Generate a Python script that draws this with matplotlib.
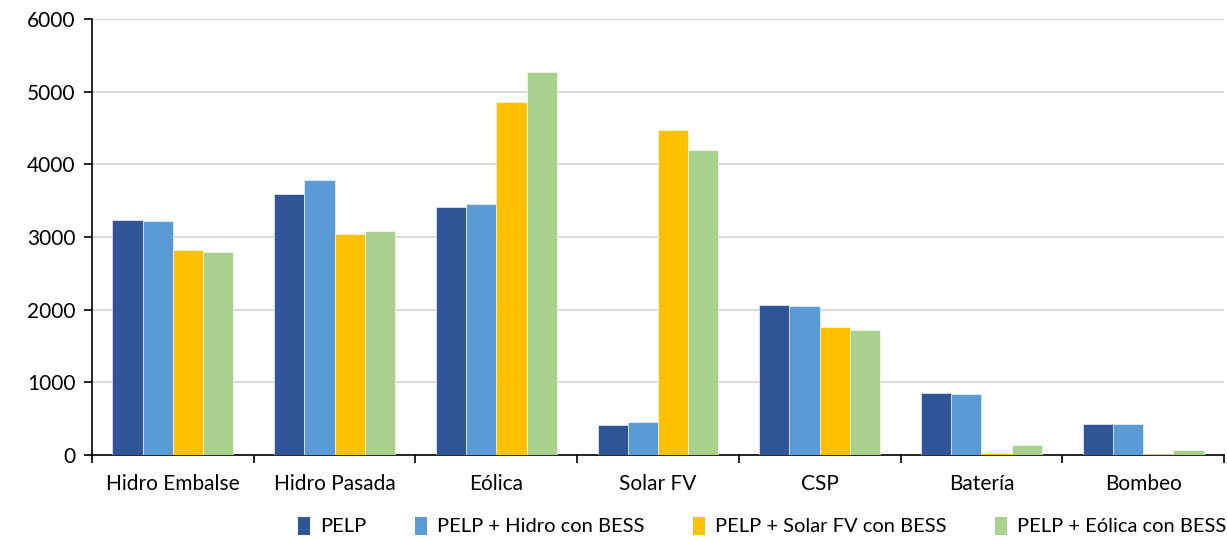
import matplotlib
matplotlib.use("Agg")
import matplotlib.pyplot as plt
import numpy as np
from matplotlib.patches import Patch

categories = ["Hidro Embalse", "Hidro Pasada", "Eólica", "Solar FV", "CSP", "Batería", "Bombeo"]
series_names = ["PELP", "PELP + Hidro con BESS", "PELP + Solar FV con BESS", "PELP + Eólica con BESS"]
pelp = [3240, 3585, 3410, 415, 2063, 853, 422]
pelp_hidro = [3222, 3785, 3452, 455, 2050, 843, 422]
pelp_solar = [2820, 3040, 4860, 4470, 1760, 25, 8]
pelp_eolica = [2792, 3080, 5268, 4195, 1719, 133, 65]
colors = ["#2F5597", "#5B9BD5", "#FFC000", "#A9D18E"]
yticks = [0, 1000, 2000, 3000, 4000, 5000, 6000]

plt.rcParams['font.family'] = ['Lato', 'DejaVu Sans']

fig = plt.figure(figsize=(12.27, 5.4), dpi=100)
ax = fig.add_axes([92/1227, 1-455/540, (1224-92)/1227, (455-19)/540])

x = np.arange(len(categories))
w = 0.187
all_series = [pelp, pelp_hidro, pelp_solar, pelp_eolica]
for i, (vals, c) in enumerate(zip(all_series, colors)):
    ax.bar(x + (i - 1.5) * w, vals, width=w, color=c, edgecolor='white', linewidth=0.4, zorder=3)

ax.set_xlim(-0.5, len(categories) - 0.5)
ax.set_ylim(0, 6000)
ax.set_yticks(yticks)
ax.set_yticklabels([str(t) for t in yticks], fontsize=15)
ax.yaxis.grid(True, color='#D9D9D9', linewidth=1.5, zorder=0)
ax.set_axisbelow(True)

ax.set_xticks(x)
ax.set_xticklabels(categories, fontsize=15)
ax.tick_params(axis='x', length=0, pad=14)
ax.set_xticks(np.arange(len(categories) + 1) - 0.5, minor=True)
ax.tick_params(axis='x', which='minor', length=6, width=1.2, direction='out', color='black')
ax.tick_params(axis='y', length=6, width=1.2, direction='out', pad=6)

for s in ['top', 'right']:
    ax.spines[s].set_visible(False)
ax.spines['left'].set_linewidth(1.2)
ax.spines['bottom'].set_linewidth(1.2)

handles = [Patch(facecolor=c, edgecolor='none') for c in colors]
leg = fig.legend(handles, series_names, loc='center', bbox_to_anchor=(762/1227, 1-526/540),
                 ncol=4, frameon=False, fontsize=14.5, handlelength=0.6, handleheight=1.0,
                 handletextpad=0.5, columnspacing=2.4)

fig.savefig("out.png", dpi=100)
